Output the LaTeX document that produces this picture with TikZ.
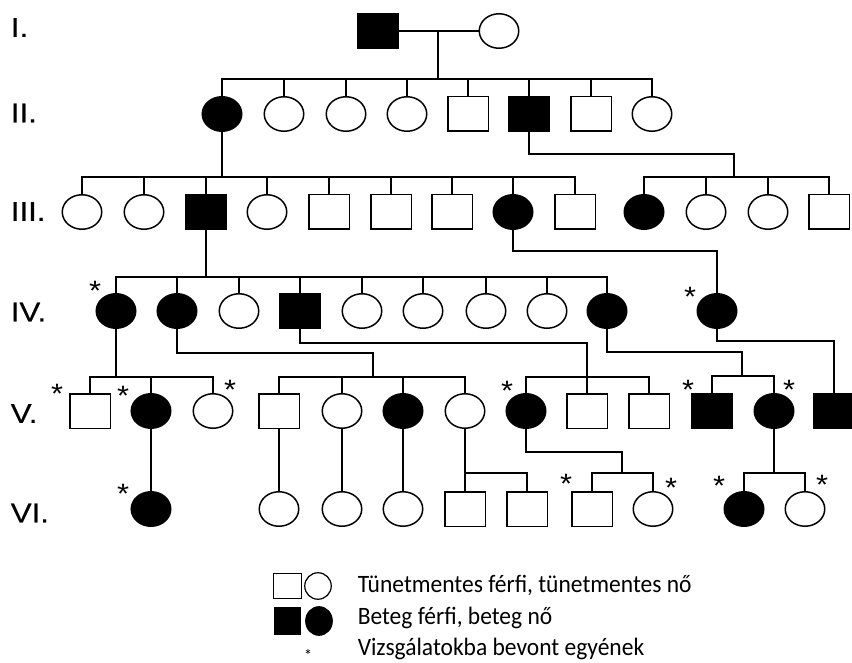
\documentclass[tikz,border=0pt]{standalone}
\usepackage{fontspec}
\setmainfont{Liberation Sans}
\newfontfamily\genfont[FakeStretch=1.16,FakeBold=0.4]{Liberation Sans}
\newfontfamily\starfont[FakeStretch=1.1]{Liberation Sans}
\newfontfamily\legfont[FakeStretch=0.94]{Carlito}
\usetikzlibrary{shapes.geometric}

\begin{document}
\begin{tikzpicture}[x=1pt,y=-1pt,
  line width=1.5pt,
  male/.style={draw, rectangle, minimum width=40.5pt, minimum height=34.5pt, inner sep=0pt},
  female/.style={draw, ellipse, minimum width=39.5pt, minimum height=34.5pt, inner sep=0pt},
  aff/.style={fill=black},
  gen/.style={anchor=west, inner sep=0pt, font=\genfont\fontsize{27}{27}\selectfont},
  star/.style={anchor=base, inner sep=0pt, yshift=-16pt, font=\starfont\fontsize{28}{28}\selectfont},
  legmale/.style={draw, rectangle, line width=1.2pt, inner sep=0pt},
  legfemale/.style={draw, ellipse, line width=1.2pt, inner sep=0pt},
  legtext/.style={anchor=base west, inner sep=0pt, font=\legfont\fontsize{25}{25}\selectfont},
]
\useasboundingbox (0,0) rectangle (852,663);

% generation labels
\node[gen] (gI)   at (10,27.5) {I.};
\node[gen] (gII)  at (10,113)  {II.};
\node[gen] (gIII) at (10,211.5) {III.};
\node[gen] (gIV)  at (10,312)  {IV.};
\node[gen] (gV)   at (10,413.5) {V.};
\node[gen] (gVI)  at (10,513)  {VI.};

% generation I
\node[male,aff] (I1) at (378,31) {};
\node[female]   (I2) at (499,31) {};
\draw (I1) -- (I2);
\coordinate (mI) at (438,31);
\coordinate (sII) at (438,79);
\draw (mI) -- (sII);

% generation II
\node[female,aff] (II1) at (222,114) {};
\node[female]     (II2) at (284,114) {};
\node[female]     (II3) at (346,114) {};
\node[female]     (II4) at (407,114) {};
\node[male]       (II5) at (468,114) {};
\node[male,aff]   (II6) at (529,114) {};
\node[male]       (II7) at (591,114) {};
\node[female]     (II8) at (652,114) {};
\draw (II1.north) -- (II1.north |- sII) -- (II8.north |- sII) -- (II8.north);
\foreach \c in {II2,II3,II4,II5,II6,II7} \draw (\c.north) -- (\c.north |- sII);

% generation III
\coordinate (sIIIa) at (222,177);
\coordinate (sIIIb) at (734,177);
\node[female]     (III1)  at (82,212) {};
\node[female]     (III2)  at (144,212) {};
\node[male,aff]   (III3)  at (206,212) {};
\node[female]     (III4)  at (267,212) {};
\node[male]       (III5)  at (329,212) {};
\node[male]       (III6)  at (391,212) {};
\node[male]       (III7)  at (452,212) {};
\node[female,aff] (III8)  at (513,212) {};
\node[male]       (III9)  at (575,212) {};
\node[female,aff] (III10) at (644,212) {};
\node[female]     (III11) at (706,212) {};
\node[female]     (III12) at (768,212) {};
\node[male]       (III13) at (829,212) {};
\draw (II1.south) -- (sIIIa);
\draw (III1.north) -- (III1.north |- sIIIa) -- (III9.north |- sIIIa) -- (III9.north);
\foreach \c in {III2,III3,III4,III5,III6,III7,III8} \draw (\c.north) -- (\c.north |- sIIIa);
\draw (II6.south) -- (II6.south |- 0,154) -| (sIIIb);
\draw (III10.north) -- (III10.north |- sIIIb) -- (III13.north |- sIIIb) -- (III13.north);
\foreach \c in {III11,III12} \draw (\c.north) -- (\c.north |- sIIIb);

% generation IV
\coordinate (sIV) at (206,277);
\node[female,aff] (IV1)  at (116,311) {};
\node[female,aff] (IV2)  at (177,311) {};
\node[female]     (IV3)  at (239,311) {};
\node[male,aff]   (IV4)  at (300,311) {};
\node[female]     (IV5)  at (362,311) {};
\node[female]     (IV6)  at (423,311) {};
\node[female]     (IV7)  at (486,311) {};
\node[female]     (IV8)  at (547,311) {};
\node[female,aff] (IV9)  at (607,311) {};
\node[female,aff] (IV10) at (717,311) {};
\draw (III3.south) -- (sIV);
\draw (IV1.north) -- (IV1.north |- sIV) -- (IV9.north |- sIV) -- (IV9.north);
\foreach \c in {IV2,IV3,IV4,IV5,IV6,IV7,IV8} \draw (\c.north) -- (\c.north |- sIV);
\draw (III8.south) -- (III8.south |- 0,251) -| (IV10.north);
\node[star] (aIV1)  at (95,285) {*};
\node[star] (aIV10) at (690,291) {*};

% generation V
\coordinate (sVa) at (116,377);
\coordinate (sVb) at (373,377);
\coordinate (sVc) at (587,377);
\coordinate (sVd) at (742,376);
\node[male]       (V1)  at (90,411) {};
\node[female,aff] (V2)  at (151,411) {};
\node[female]     (V3)  at (213,411) {};
\node[male]       (V4)  at (279,411) {};
\node[female]     (V5)  at (342,411) {};
\node[female,aff] (V6)  at (403,411) {};
\node[female]     (V7)  at (465,411) {};
\node[female,aff] (V8)  at (526,411) {};
\node[male]       (V9)  at (587,411) {};
\node[male]       (V10) at (649,411) {};
\node[male,aff]   (V11) at (712,411) {};
\node[female,aff] (V12) at (774,411) {};
\node[male,aff]   (V13) at (834,411) {};
% sibship of IV1
\draw (IV1.south) -- (sVa);
\draw (V1.north) -- (V1.north |- sVa) -- (V3.north |- sVa) -- (V3.north);
\draw (V2.north) -- (V2.north |- sVa);
% sibship of IV2
\draw (IV2.south) -- (IV2.south |- 0,353) -| (sVb);
\draw (V4.north) -- (V4.north |- sVb) -- (V7.north |- sVb) -- (V7.north);
\foreach \c in {V5,V6} \draw (\c.north) -- (\c.north |- sVb);
% line from IV4
\draw (IV4.south) -- (IV4.south |- 0,343) -| (V9.north);
\draw (V8.north) -- (V8.north |- sVc) -- (V10.north |- sVc) -- (V10.north);
% sibship of IV9
\draw (IV9.south) -- (IV9.south |- 0,352) -| (sVd);
\draw (V11.north) -- (V11.north |- sVd) -- (V12.north |- sVd) -- (V12.north);
% line from IV10
\draw (IV10.south) -- (IV10.south |- 0,341) -| (V13.north);
\node[star] (aV1)  at (57,387) {*};
\node[star] (aV2)  at (123,389) {*};
\node[star] (aV3)  at (230,383) {*};
\node[star] (aV8)  at (507,384) {*};
\node[star] (aV11) at (688,383) {*};
\node[star] (aV12) at (789,383) {*};

% generation VI
\coordinate (sVIb) at (465,473);
\coordinate (sVIc) at (622,473);
\coordinate (sVId) at (774,473);
\node[female,aff] (VI1)  at (151,509) {};
\node[female]     (VI2)  at (279,509) {};
\node[female]     (VI3)  at (342,509) {};
\node[female]     (VI4)  at (403,509) {};
\node[male]       (VI5)  at (465,509) {};
\node[male]       (VI6)  at (527,509) {};
\node[male]       (VI7)  at (592,509) {};
\node[female]     (VI8)  at (653,509) {};
\node[female,aff] (VI9)  at (744,509) {};
\node[female]     (VI10) at (805,509) {};
\draw (V2) -- (VI1);
\draw (V4) -- (VI2);
\draw (V5) -- (VI3);
\draw (V6) -- (VI4);
\draw (V7) -- (VI5);
\draw (sVIb) -| (VI6.north);
\draw (V8.south) -- (V8.south |- 0,452) -| (sVIc);
\draw (VI7.north) -- (VI7.north |- sVIc) -- (VI8.north |- sVIc) -- (VI8.north);
\draw (V12.south) -- (sVId);
\draw (VI9.north) -- (VI9.north |- sVId) -- (VI10.north |- sVId) -- (VI10.north);
\node[star] (aVI1)  at (123,487) {*};
\node[star] (aVI7)  at (566,477) {*};
\node[star] (aVI8)  at (671,481) {*};
\node[star] (aVI9)  at (719,479) {*};
\node[star] (aVI10) at (822,478) {*};

% key
\node[legmale, minimum width=27.5pt, minimum height=24.5pt] (kM) at (287.5,586) {};
\node[legfemale, minimum width=26.5pt, minimum height=26.5pt] (kF) at (318,586) {};
\node[legmale, aff, minimum width=25.5pt, minimum height=26.5pt] (kMa) at (287.5,621) {};
\node[legfemale, aff, minimum width=26.5pt, minimum height=28.5pt] (kFa) at (319,621) {};
\node[anchor=center, inner sep=0pt, font=\legfont\fontsize{17}{17}\selectfont] (kS) at (308,655) {*};
\node[legtext] (t1) at (357,592) {Tünetmentes férfi, tünetmentes nő};
\node[legtext] (t2) at (357,624) {Beteg férfi, beteg nő};
\node[legtext] (t3) at (357,655) {Vizsgálatokba bevont egyének};
\end{tikzpicture}
\end{document}
